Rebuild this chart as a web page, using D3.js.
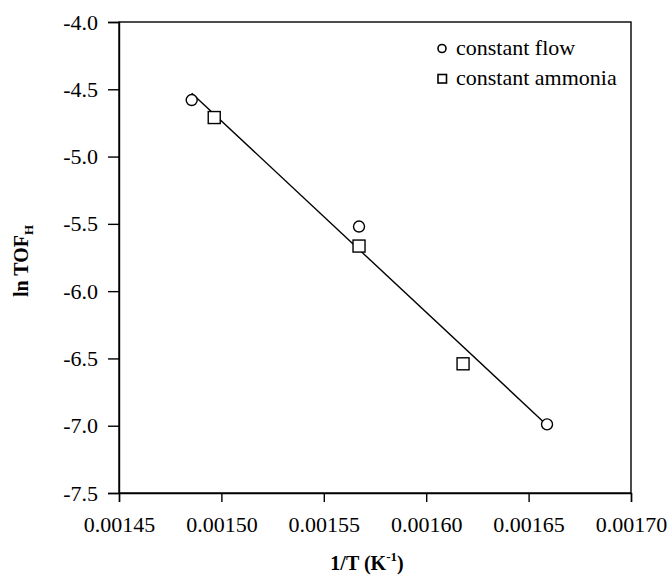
<!DOCTYPE html>
<html>
<head>
<meta charset="utf-8">
<script src="https://cdn.jsdelivr.net/npm/d3@7"></script>
<style>
  body { margin: 0; background: #fff; }
  svg { display: block; }
</style>
</head>
<body>
<svg id="chart" width="670" height="577"></svg>
<script>
// Arrhenius data: inverse temperature vs ln TOF_H
const flowX = [0.0014855, 0.0015672, 0.0016590];
const flowY = [-4.58, -5.52, -6.99];
const ammoniaX = [0.0014965, 0.0015672, 0.0016180];
const ammoniaY = [-4.71, -5.665, -6.54];
const xTicks = [0.00145, 0.00150, 0.00155, 0.00160, 0.00165, 0.00170];
const yTicks = [-4.0, -4.5, -5.0, -5.5, -6.0, -6.5, -7.0, -7.5];
const seriesNames = ["constant flow", "constant ammonia"];

const SERIF = "'Liberation Serif', 'Times New Roman', 'DejaVu Serif', serif";
const svg = d3.select("#chart").style("font-family", SERIF);
const plotL = 119, plotR = 631, plotT = 22, plotB = 493;

const x = d3.scaleLinear().domain([0.00145, 0.00170]).range([plotL, plotR]);
const y = d3.scaleLinear().domain([-7.5, -4.0]).range([plotB, plotT]);

// frame
svg.append("rect")
  .attr("x", plotL).attr("y", plotT)
  .attr("width", plotR - plotL).attr("height", plotB - plotT)
  .attr("fill", "none").attr("stroke", "#000").attr("stroke-width", 1.4);

// axes
const xAxis = svg.append("g")
  .attr("transform", `translate(0,${plotB})`)
  .call(d3.axisBottom(x).tickValues(xTicks).tickSize(9).tickPadding(14)
    .tickFormat(d3.format(".5f")));
const yAxis = svg.append("g")
  .attr("transform", `translate(${plotL},0)`)
  .call(d3.axisLeft(y).tickValues(yTicks).tickSize(11).tickPadding(10)
    .tickFormat(d => d.toFixed(1)));

[xAxis, yAxis].forEach(g => {
  g.attr("font-family", null).attr("font-size", null);
  g.select(".domain").attr("stroke", "#000").attr("stroke-width", 1.4);
  g.selectAll(".tick line").attr("stroke", "#000").attr("stroke-width", 1.4);
  g.selectAll(".tick text")
    .style("font-family", SERIF)
    .style("font-size", "22px").attr("fill", "#000");
});

// least-squares fit across both series
const allX = flowX.concat(ammoniaX), allY = flowY.concat(ammoniaY);
const mx = d3.mean(allX), my = d3.mean(allY);
const slope = d3.sum(allX, (v, i) => (v - mx) * (allY[i] - my)) /
              d3.sum(allX, v => (v - mx) * (v - mx));
const fit = v => my + slope * (v - mx);
const x0 = d3.min(allX), x1 = d3.max(allX);
svg.append("line")
  .attr("x1", x(x0)).attr("y1", y(fit(x0)))
  .attr("x2", x(x1)).attr("y2", y(fit(x1)))
  .attr("stroke", "#000").attr("stroke-width", 1.4);

// circles: constant flow
svg.append("g").selectAll("circle")
  .data(flowX.map((v, i) => [v, flowY[i]]))
  .join("circle")
  .attr("cx", d => x(d[0])).attr("cy", d => y(d[1])).attr("r", 5.5)
  .attr("fill", "#fff").attr("stroke", "#000").attr("stroke-width", 1.4);

// squares: constant ammonia
const sq = 12;
svg.append("g").selectAll("rect")
  .data(ammoniaX.map((v, i) => [v, ammoniaY[i]]))
  .join("rect")
  .attr("x", d => x(d[0]) - sq / 2).attr("y", d => y(d[1]) - sq / 2)
  .attr("width", sq).attr("height", sq)
  .attr("fill", "#fff").attr("stroke", "#000").attr("stroke-width", 1.4);

// legend
const leg = svg.append("g");
leg.append("circle").attr("cx", 442).attr("cy", 48.5).attr("r", 4)
  .attr("fill", "#fff").attr("stroke", "#000").attr("stroke-width", 1.6);
leg.append("text").attr("x", 456).attr("y", 55)
  .style("font-family", SERIF).style("font-size", "22px").text(seriesNames[0]);
leg.append("rect").attr("x", 438).attr("y", 74.5).attr("width", 8.5).attr("height", 8.5)
  .attr("fill", "#fff").attr("stroke", "#000").attr("stroke-width", 1.6);
leg.append("text").attr("x", 456).attr("y", 85)
  .style("font-family", SERIF).style("font-size", "22px").text(seriesNames[1]);

// axis titles
const xt = svg.append("text")
  .attr("x", (plotL + plotR) / 2 - 8).attr("y", 570)
  .attr("text-anchor", "middle")
  .style("font-family", SERIF).style("font-size", "20px").style("font-weight", "bold");
xt.append("tspan").text("1/T (K");
xt.append("tspan").style("font-size", "13px").attr("dy", -9).text("-1");
xt.append("tspan").attr("dy", 9).text(")");

const yt = svg.append("text")
  .attr("transform", "translate(28,261) rotate(-90)")
  .attr("text-anchor", "middle")
  .style("font-family", SERIF).style("font-size", "20px").style("font-weight", "bold");
yt.append("tspan").text("ln TOF");
yt.append("tspan").style("font-size", "13px").attr("dy", 5).text("H");
</script>
</body>
</html>
